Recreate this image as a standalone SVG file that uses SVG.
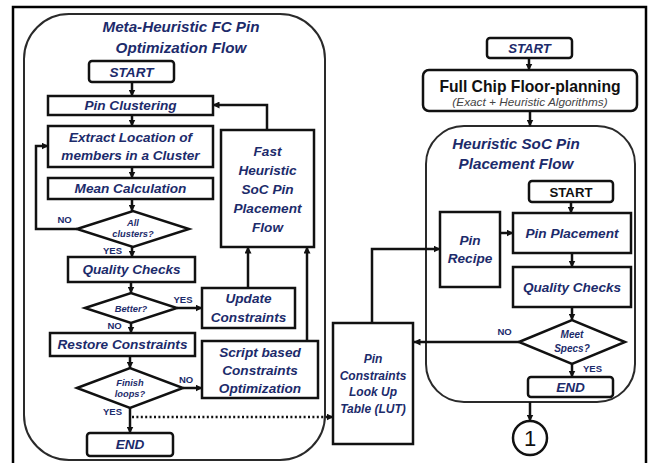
<svg xmlns="http://www.w3.org/2000/svg" width="653" height="463" viewBox="0 0 653 463">
  <style>
    .box { fill: #ffffff; stroke: #111111; stroke-width: 2.5; }
    .cont { fill: none; stroke: #2a2a2a; stroke-width: 2; }
    .t { font-family: "Liberation Sans", Arial, sans-serif; font-weight: bold; font-style: italic; fill: #1c2b6b; text-anchor: middle; font-size: 13.6px; }
    .ttl { font-size: 15.2px; }
    .lut { font-size: 12px; }
    .d { font-size: 9.3px; }
    .lb { font-family: "Liberation Sans", Arial, sans-serif; font-weight: bold; fill: #1c2b6b; text-anchor: middle; font-size: 9.5px; }
    .blk { font-family: "Liberation Sans", Arial, sans-serif; font-weight: bold; fill: #111111; text-anchor: middle; }
    .sub { font-family: "Liberation Sans", Arial, sans-serif; font-style: italic; fill: #444444; text-anchor: middle; font-size: 11.8px; }
    .ln { fill: none; stroke: #111111; stroke-width: 2.5; }
    .dot { stroke-dasharray: 2 2.4; }
  </style>
  <defs>
    <marker id="ah" markerUnits="userSpaceOnUse" markerWidth="7" markerHeight="7" refX="6.5" refY="3.5" orient="auto">
      <path d="M0,0 L7,3.5 L0,7 z" fill="#111111"/>
    </marker>
  </defs>

  <rect width="653" height="463" fill="#ffffff"/>
  <!-- page frame -->
  <path d="M13,470 V7 H646 V470" fill="none" stroke="#000000" stroke-width="2.5"/>

  <!-- left flow container -->
  <g id="meta-flow">
    <rect class="cont" x="24" y="14" width="301" height="446" rx="45"/>
    <text class="t ttl" x="181" y="32">Meta-Heuristic FC Pin</text>
    <text class="t ttl" x="181" y="53">Optimization Flow</text>
  </g>

  <g id="start-left">
    <rect class="box" x="89" y="61" width="85" height="21" rx="3"/>
    <text class="t" x="131.5" y="76.5">START</text>
  </g>
  <g id="pin-clustering">
    <rect class="box" x="48" y="96" width="165" height="19"/>
    <text class="t" x="130.5" y="110.4">Pin Clustering</text>
  </g>
  <g id="extract-location">
    <rect class="box" x="48" y="126" width="165" height="41"/>
    <text class="t" x="130.5" y="142">Extract Location of</text>
    <text class="t" x="130.5" y="160">members in a Cluster</text>
  </g>
  <g id="mean-calc">
    <rect class="box" x="48" y="178" width="165" height="21"/>
    <text class="t" x="130.5" y="193.4">Mean Calculation</text>
  </g>
  <g id="all-clusters">
    <polygon class="box" points="77,229 133,211 189,229 133,247"/>
    <text class="t d" x="133" y="226">All</text>
    <text class="t d" x="133" y="237">clusters?</text>
  </g>
  <g id="quality-left">
    <rect class="box" x="68" y="257" width="127" height="25"/>
    <text class="t" x="131.5" y="274.4">Quality Checks</text>
  </g>
  <g id="better">
    <polygon class="box" points="85,308 131,293 177,308 131,323"/>
    <text class="t d" x="131" y="311.5">Better?</text>
  </g>
  <g id="restore">
    <rect class="box" x="50" y="333" width="145" height="23"/>
    <text class="t" x="122.5" y="349.4">Restore Constraints</text>
  </g>
  <g id="finish-loops">
    <polygon class="box" points="77,388 130,368 183,388 130,408"/>
    <text class="t d" x="130" y="386">Finish</text>
    <text class="t d" x="130" y="397">loops?</text>
  </g>
  <g id="end-left">
    <rect class="box" x="87" y="433" width="86" height="23" rx="3"/>
    <text class="t" x="130" y="449.4">END</text>
  </g>
  <g id="update">
    <rect class="box" x="202" y="288" width="93" height="40"/>
    <text class="t" x="248.5" y="303">Update</text>
    <text class="t" x="248.5" y="322">Constraints</text>
  </g>
  <g id="script-opt">
    <rect class="box" x="202" y="341" width="116" height="57"/>
    <text class="t" x="260" y="357">Script based</text>
    <text class="t" x="260" y="375">Constraints</text>
    <text class="t" x="260" y="393">Optimization</text>
  </g>
  <g id="fast-heuristic">
    <rect class="box" x="221" y="130" width="93" height="117"/>
    <text class="t" x="267.5" y="156">Fast</text>
    <text class="t" x="267.5" y="175">Heuristic</text>
    <text class="t" x="267.5" y="194">SoC Pin</text>
    <text class="t" x="267.5" y="213">Placement</text>
    <text class="t" x="267.5" y="232">Flow</text>
  </g>

  <!-- right side -->
  <g id="start-top">
    <rect class="box" x="487" y="38" width="85" height="20" rx="3"/>
    <text class="t" x="529.5" y="52.8" style="font-size:13.2px">START</text>
  </g>
  <g id="floorplanning">
    <rect class="box" x="423" y="70" width="214" height="41" rx="6"/>
    <text class="blk" x="530" y="92" style="font-size:15.7px">Full Chip Floor-planning</text>
    <text class="sub" x="530" y="106">(Exact + Heuristic Algorithms)</text>
  </g>
  <g id="soc-flow">
    <rect class="cont" x="426" y="126" width="209" height="276" rx="38"/>
    <text class="t ttl" x="516" y="149">Heuristic SoC Pin</text>
    <text class="t ttl" x="516" y="169">Placement Flow</text>
  </g>
  <g id="start-inner">
    <rect class="box" x="529" y="181" width="84" height="21" rx="3"/>
    <text class="blk" x="571" y="196.5" style="font-size:13.2px">START</text>
  </g>
  <g id="pin-placement">
    <rect class="box" x="513" y="213" width="118" height="40"/>
    <text class="t" x="572" y="238">Pin Placement</text>
  </g>
  <g id="quality-right">
    <rect class="box" x="513" y="267" width="118" height="40"/>
    <text class="t" x="572" y="292">Quality Checks</text>
  </g>
  <g id="meet-specs">
    <polygon class="box" points="519,342 572,320 625,342 572,364"/>
    <text class="t d" x="572" y="338" style="font-size:10px">Meet</text>
    <text class="t d" x="572" y="352" style="font-size:10px">Specs?</text>
  </g>
  <g id="end-right">
    <rect class="box" x="528" y="377" width="85" height="20" rx="3"/>
    <text class="t" x="570.5" y="392">END</text>
  </g>
  <g id="pin-recipe">
    <rect class="box" x="440" y="212" width="60" height="75"/>
    <text class="t" x="470" y="245">Pin</text>
    <text class="t" x="470" y="263">Recipe</text>
  </g>
  <g id="lut">
    <rect class="box" x="333" y="323" width="80" height="121"/>
    <text class="t lut" x="373" y="363">Pin</text>
    <text class="t lut" x="373" y="379.7">Constraints</text>
    <text class="t lut" x="373" y="396.4">Look Up</text>
    <text class="t lut" x="373" y="413">Table (LUT)</text>
  </g>
  <g id="connector-1">
    <circle cx="530" cy="438" r="17" fill="#ffffff" stroke="#111111" stroke-width="2.5"/>
    <text x="530" y="446" font-family="Liberation Sans, Arial, sans-serif" font-size="22" fill="#111111" text-anchor="middle">1</text>
  </g>

  <!-- connectors -->
  <g id="connectors">
    <path class="ln" d="M132,82 V96" marker-end="url(#ah)"/>
    <path class="ln" d="M132,115 V126" marker-end="url(#ah)"/>
    <path class="ln" d="M132,167 V178" marker-end="url(#ah)"/>
    <path class="ln" d="M132,199 V211" marker-end="url(#ah)"/>
    <path class="ln" d="M132,247 V257" marker-end="url(#ah)"/>
    <path class="ln" d="M77,229 H36 V146 H48" marker-end="url(#ah)"/>
    <path class="ln" d="M131,282 V293" marker-end="url(#ah)"/>
    <path class="ln" d="M177,308 H202" marker-end="url(#ah)"/>
    <path class="ln" d="M131,323 V333" marker-end="url(#ah)"/>
    <path class="ln" d="M130,356 V368" marker-end="url(#ah)"/>
    <path class="ln" d="M183,388 H202" marker-end="url(#ah)"/>
    <path class="ln" d="M130,408 V433" marker-end="url(#ah)"/>
    <path class="ln dot" d="M132,417 H333" marker-end="url(#ah)"/>
    <path class="ln" d="M248,288 V247" marker-end="url(#ah)"/>
    <path class="ln" d="M307,341 V247" marker-end="url(#ah)"/>
    <path class="ln" d="M267,130 V105 H213" marker-end="url(#ah)"/>
    <path class="ln" d="M529,58 V70" marker-end="url(#ah)"/>
    <path class="ln" d="M530,111 V126" marker-end="url(#ah)"/>
    <path class="ln" d="M571,202 V213" marker-end="url(#ah)"/>
    <path class="ln" d="M572,253 V267" marker-end="url(#ah)"/>
    <path class="ln" d="M572,307 V320" marker-end="url(#ah)"/>
    <path class="ln" d="M572,364 V377" marker-end="url(#ah)"/>
    <path class="ln" d="M519,342 H414" marker-end="url(#ah)"/>
    <path class="ln" d="M372,323 V249 H440" marker-end="url(#ah)"/>
    <path class="ln" d="M500,233 H513" marker-end="url(#ah)"/>
    <path class="ln" d="M530,402 V421" marker-end="url(#ah)"/>
    <!-- branch labels -->
    <text class="lb" x="64.5" y="223">NO</text>
    <text class="lb" x="112.5" y="254">YES</text>
    <text class="lb" x="183" y="303">YES</text>
    <text class="lb" x="114.5" y="329">NO</text>
    <text class="lb" x="186" y="383">NO</text>
    <text class="lb" x="112.5" y="415">YES</text>
    <text class="lb" x="504.5" y="335">NO</text>
    <text class="lb" x="592.5" y="372">YES</text>
  </g>
</svg>
